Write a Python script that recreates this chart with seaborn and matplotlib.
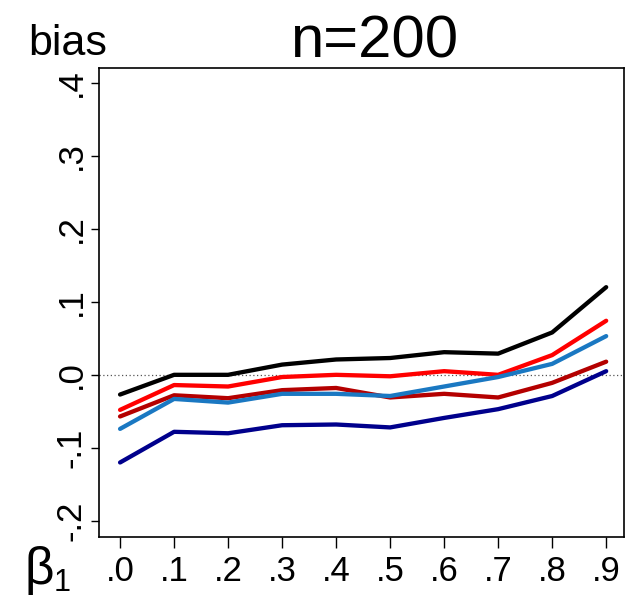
import matplotlib
matplotlib.use("Agg")
import matplotlib.pyplot as plt
import seaborn as sns
import pandas as pd

sns.set_theme(style="white")
plt.rcParams["font.family"] = ["Liberation Sans", "DejaVu Sans"]
plt.rcParams["text.color"] = "black"
plt.rcParams["xtick.color"] = "black"
plt.rcParams["ytick.color"] = "black"

# beta_1 grid and bias of each estimator
beta1 = [0.0, 0.1, 0.2, 0.3, 0.4, 0.5, 0.6, 0.7, 0.8, 0.9]
beta1_labels = [".0", ".1", ".2", ".3", ".4", ".5", ".6", ".7", ".8", ".9"]
bias_black = [-0.027, 0.000, 0.000, 0.014, 0.021, 0.023, 0.031, 0.029, 0.058, 0.120]
bias_red = [-0.048, -0.014, -0.016, -0.003, 0.000, -0.002, 0.005, 0.000, 0.027, 0.074]
bias_darkred = [-0.057, -0.028, -0.032, -0.021, -0.018, -0.031, -0.026, -0.031, -0.011, 0.018]
bias_blue = [-0.074, -0.033, -0.038, -0.026, -0.026, -0.029, -0.016, -0.003, 0.015, 0.053]
bias_navy = [-0.120, -0.078, -0.080, -0.069, -0.068, -0.072, -0.059, -0.047, -0.029, 0.005]
y_ticks = [-0.2, -0.1, 0.0, 0.1, 0.2, 0.3, 0.4]
y_labels = ["-.2", "-.1", ".0", ".1", ".2", ".3", ".4"]

series = {
    "black": bias_black,
    "red": bias_red,
    "darkred": bias_darkred,
    "blue": bias_blue,
    "navy": bias_navy,
}
palette = {
    "black": "#000000",
    "red": "#ff0000",
    "darkred": "#b40000",
    "blue": "#1a78c2",
    "navy": "#00008c",
}

df = pd.DataFrame(
    [(b, name, v) for name, vals in series.items() for b, v in zip(beta1, vals)],
    columns=["beta1", "estimator", "bias"],
)

fig = plt.figure(figsize=(6.39, 6.0), dpi=100)
ax = fig.add_axes([99 / 639, 63 / 600, 525 / 639, 469 / 600])

ax.axhline(0, color="#555555", lw=0.9, ls=(0, (1, 2)), zorder=1)
sns.lineplot(
    data=df, x="beta1", y="bias", hue="estimator", palette=palette,
    hue_order=list(series.keys()), linewidth=3.1, legend=False, ax=ax, zorder=2,
)

ax.set_xlim(-0.039, 0.933)
ax.set_ylim(-0.222, 0.42)
ax.set_xticks(beta1)
ax.set_xticklabels(beta1_labels, fontsize=25)
ax.set_yticks(y_ticks)
ax.set_yticklabels(y_labels, fontsize=25, rotation=90, va="center")
ax.tick_params(axis="x", direction="out", length=8, width=1, pad=5, bottom=True)
ax.tick_params(axis="y", direction="out", length=6, width=1, pad=2, left=True)
ax.set_xlabel("")
ax.set_ylabel("")
for s in ax.spines.values():
    s.set_visible(True)
    s.set_color("black")
    s.set_linewidth(1.2)

fig.text(28 / 639, 1 - 55 / 600, "bias", fontsize=31, va="baseline", ha="left")
fig.text(374 / 639, 1 - 57 / 600, "n=200", fontsize=43, va="baseline", ha="center")
fig.text(25 / 639, 1 - 584 / 600, "β", fontsize=37, va="baseline", ha="left")
fig.text(54 / 639, 1 - 591 / 600, "1", fontsize=22, va="baseline", ha="left")

fig.savefig("out.png", dpi=100)
